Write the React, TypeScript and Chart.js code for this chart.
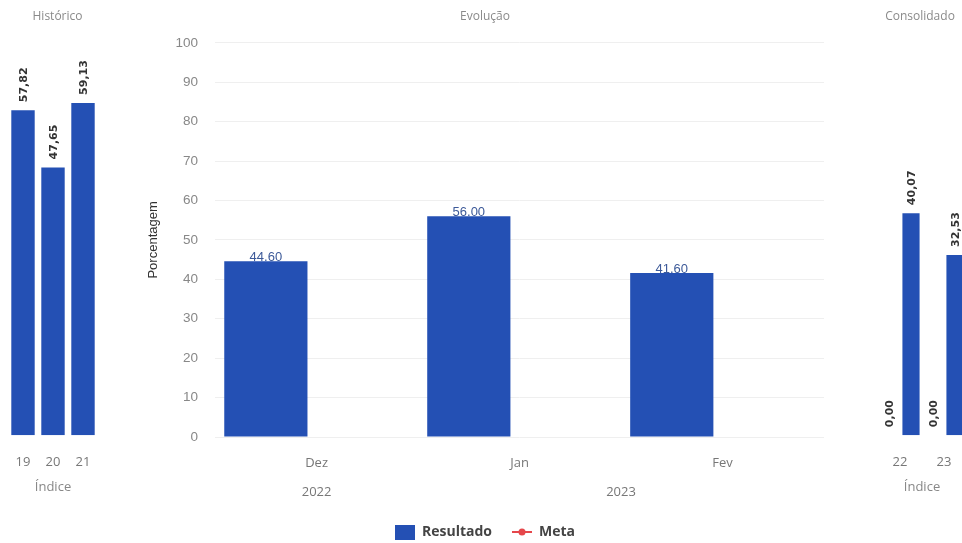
import React, { useEffect, useRef } from "react";
import { Chart, registerables } from "chart.js";

Chart.register(...registerables);
Chart.defaults.font.family = "'Liberation Sans', Arial, sans-serif";

// ---------- Data ----------
// Histórico
const historicoCategorias = ["19", "20", "21"];
const historicoResultado = [57.82, 47.65, 59.13];
const historicoMaxY = 70;

// Evolução
const evolucaoMeses = ["Dez", "Jan", "Fev"];
const evolucaoAnos = ["2022", "2023", "2023"];
const evolucaoResultado = [44.6, 56.0, 41.6];
const evolucaoMeta: (number | null)[] = [null, null, null];
const evolucaoTicksY = [0, 10, 20, 30, 40, 50, 60, 70, 80, 90, 100];

// Consolidado
const consolidadoCategorias = ["22", "23"];
const consolidadoMeta = [0, 0];
const consolidadoResultado = [40.07, 32.53];
const consolidadoMaxY = 71;

// ---------- Styles ----------
const AZUL = "#2450b4";
const VERMELHO = "#e5474b";
const TICK_COLOR = "#777";
const OPEN = "'Open Sans', 'Liberation Sans', sans-serif";

// value labels plugin
const valueLabels = {
  id: "valueLabels",
  afterDatasetsDraw(chart: any, _args: any, opts: any) {
    if (!opts || !opts.show) return;
    const ctx = chart.ctx;
    chart.data.datasets.forEach((ds: any, di: number) => {
      const meta = chart.getDatasetMeta(di);
      if (meta.hidden) return;
      meta.data.forEach((el: any, i: number) => {
        const v = ds.data[i];
        if (v === null || v === undefined) return;
        const text = Number(v).toFixed(2).replace(".", opts.decimal);
        ctx.save();
        ctx.font = opts.font;
        ctx.fillStyle = opts.color;
        if (opts.rotate) {
          ctx.translate(el.x + 1, el.y - opts.offset);
          ctx.rotate(-Math.PI / 2);
          ctx.textAlign = "left";
          ctx.textBaseline = "middle";
          ctx.fillText(text, 0, 0);
        } else {
          ctx.textAlign = "center";
          ctx.textBaseline = "alphabetic";
          ctx.fillText(text, el.x, el.y - opts.offset);
        }
        ctx.restore();
      });
    });
  },
};

// Year row: a half-step category axis (2n+1 positions, no offset),
// each year placed at the middle of the months it covers.
const rotulosAnos = (() => {
  const n = evolucaoMeses.length;
  const out: string[] = new Array(2 * n + 1).fill("");
  const groups: { label: string; idx: number[] }[] = [];
  evolucaoAnos.forEach((a, i) => {
    const g = groups.find((x) => x.label === a);
    if (g) g.idx.push(i);
    else groups.push({ label: a, idx: [i] });
  });
  groups.forEach((g) => {
    const mean = g.idx.reduce((s, v) => s + v, 0) / g.idx.length;
    out[Math.round(2 * mean + 1)] = g.label;
  });
  return out;
})();

function makeIcons() {
  const box = document.createElement("canvas");
  box.width = 20;
  box.height = 15;
  const bctx = box.getContext("2d")!;
  bctx.fillStyle = AZUL;
  bctx.fillRect(0, 0, 20, 15);

  const line = document.createElement("canvas");
  line.width = 20;
  line.height = 10;
  const lctx = line.getContext("2d")!;
  lctx.strokeStyle = VERMELHO;
  lctx.lineWidth = 2;
  lctx.beginPath();
  lctx.moveTo(0, 5);
  lctx.lineTo(20, 5);
  lctx.stroke();
  lctx.fillStyle = VERMELHO;
  lctx.beginPath();
  lctx.arc(10, 5, 3.5, 0, Math.PI * 2);
  lctx.fill();
  return [box, line];
}

const smallTitle = (text: string, bottom: number) => ({
  display: true,
  text,
  font: { size: 12, weight: "normal", family: OPEN },
  color: "#8a8a8a",
  padding: { top: 9.8, bottom },
});

const indiceAxis = () => ({
  grid: { display: false, drawTicks: true, tickLength: 17 },
  border: { display: false },
  ticks: { font: { size: 13, family: OPEN }, color: TICK_COLOR, padding: 2 },
  title: {
    display: true,
    text: "Índice",
    font: { size: 13, family: OPEN },
    color: "#888",
    padding: { top: 7.6, bottom: 4 },
  },
});

function historicoConfig(): any {
  return {
    type: "bar",
    data: {
      labels: historicoCategorias,
      datasets: [
        {
          label: "Resultado",
          data: historicoResultado,
          backgroundColor: AZUL,
          barPercentage: 0.78,
          categoryPercentage: 1,
        },
      ],
    },
    plugins: [valueLabels],
    options: {
      responsive: true,
      maintainAspectRatio: false,
      animation: false,
      layout: { padding: { left: 8, right: 0, top: 0, bottom: 0 } },
      plugins: {
        legend: { display: false },
        tooltip: { enabled: false },
        title: smallTitle("Histórico", 17.6),
        valueLabels: {
          show: true,
          rotate: true,
          decimal: ",",
          font: "bold 11px 'DejaVu Sans'",
          color: "#333",
          offset: 8,
        },
      },
      scales: {
        x: indiceAxis(),
        y: {
          position: "right",
          min: 0,
          max: historicoMaxY,
          ticks: { display: false },
          grid: { display: false, drawTicks: false },
          border: { display: false },
          afterFit: (s: any) => {
            s.width = 9;
          },
        },
      },
    },
  };
}

function evolucaoConfig(): any {
  const icons = makeIcons();
  return {
    type: "bar",
    data: {
      labels: evolucaoMeses,
      datasets: [
        {
          label: "Resultado",
          data: evolucaoResultado,
          backgroundColor: AZUL,
          barPercentage: 0.82,
          categoryPercentage: 1,
          xAxisID: "x",
          yAxisID: "y",
        },
        {
          label: "Meta",
          data: evolucaoMeta,
          backgroundColor: VERMELHO,
          barPercentage: 0.82,
          categoryPercentage: 1,
          xAxisID: "x",
          yAxisID: "y",
        },
      ],
    },
    plugins: [valueLabels],
    options: {
      responsive: true,
      maintainAspectRatio: false,
      animation: false,
      layout: { padding: 0 },
      plugins: {
        tooltip: { enabled: false },
        title: smallTitle("Evolução", 18.6),
        legend: {
          display: true,
          position: "bottom",
          labels: {
            usePointStyle: true,
            pointStyleWidth: 20,
            boxHeight: 14,
            padding: 20,
            font: { size: 14, weight: "bold", family: OPEN },
            color: "#444",
            generateLabels: (chart: any) =>
              chart.data.datasets.map((ds: any, i: number) => ({
                text: ds.label,
                pointStyle: icons[i],
                fillStyle: "transparent",
                strokeStyle: "transparent",
                lineWidth: 0,
                hidden: false,
                datasetIndex: i,
                fontColor: "#444",
              })),
          },
        },
        valueLabels: {
          show: true,
          rotate: false,
          decimal: ".",
          font: "13px 'Liberation Sans'",
          color: "#3d5a99",
          offset: 0,
        },
      },
      scales: {
        x: {
          weight: 0,
          grid: { display: false, drawTicks: true, tickLength: 16 },
          border: { display: false },
          ticks: { font: { size: 13, family: OPEN }, color: TICK_COLOR, padding: 2 },
        },
        x2: {
          type: "category",
          labels: rotulosAnos,
          position: "bottom",
          weight: 1,
          offset: false,
          grid: { display: false, offset: false, drawTicks: true, tickLength: 10 },
          border: { display: false },
          ticks: {
            autoSkip: false,
            maxRotation: 0,
            font: { size: 13, family: OPEN },
            color: TICK_COLOR,
            padding: 2,
          },
          afterFit: (s: any) => {
            s.height += 2.8;
          },
        },
        y: {
          position: "left",
          min: evolucaoTicksY[0],
          max: evolucaoTicksY[evolucaoTicksY.length - 1],
          afterBuildTicks: (s: any) => {
            s.ticks = evolucaoTicksY.map((v) => ({ value: v }));
          },
          grid: { color: "#efefef", drawTicks: true, tickLength: 15, tickColor: "rgba(0,0,0,0)" },
          border: { display: false },
          ticks: { font: { size: 13.5 }, color: "#888", padding: 2 },
          title: {
            display: true,
            text: "Porcentagem",
            font: { size: 13 },
            color: "#333",
            padding: { top: 4, bottom: 12 },
          },
        },
        yDir: {
          position: "right",
          display: true,
          ticks: { display: false },
          grid: { display: false, drawTicks: false },
          border: { display: false },
          afterFit: (s: any) => {
            s.width = 4;
          },
        },
      },
    },
  };
}

function consolidadoConfig(): any {
  return {
    type: "bar",
    data: {
      labels: consolidadoCategorias,
      datasets: [
        {
          label: "Meta",
          data: consolidadoMeta,
          backgroundColor: AZUL,
          barPercentage: 0.78,
          categoryPercentage: 1,
        },
        {
          label: "Resultado",
          data: consolidadoResultado,
          backgroundColor: AZUL,
          barPercentage: 0.78,
          categoryPercentage: 1,
        },
      ],
    },
    plugins: [valueLabels],
    options: {
      responsive: true,
      maintainAspectRatio: false,
      animation: false,
      layout: { padding: 0 },
      plugins: {
        legend: { display: false },
        tooltip: { enabled: false },
        title: smallTitle("Consolidado", 17.6),
        valueLabels: {
          show: true,
          rotate: true,
          decimal: ",",
          font: "bold 11px 'DejaVu Sans'",
          color: "#333",
          offset: 8,
        },
      },
      scales: {
        x: indiceAxis(),
        y: {
          position: "left",
          min: 0,
          max: consolidadoMaxY,
          ticks: { display: false },
          grid: { display: false, drawTicks: false },
          border: { display: false },
          afterFit: (s: any) => {
            s.width = 4;
          },
        },
      },
    },
  };
}

function ChartBox({ box, make }: { box: React.CSSProperties; make: () => any }) {
  const ref = useRef<HTMLCanvasElement>(null);
  useEffect(() => {
    const chart = new Chart(ref.current as HTMLCanvasElement, make());
    return () => chart.destroy();
  }, []);
  return (
    <div style={{ position: "absolute", ...box }}>
      <canvas ref={ref} />
    </div>
  );
}

export default function App() {
  return (
    <div
      style={{
        position: "fixed",
        left: 0,
        top: 0,
        width: 962,
        height: 543,
        overflow: "hidden",
        background: "#fff",
      }}
    >
      <ChartBox box={{ left: 0, top: 0, width: 107, height: 499 }} make={historicoConfig} />
      <ChartBox box={{ left: 142, top: 0, width: 686, height: 549 }} make={evolucaoConfig} />
      <ChartBox box={{ left: 874, top: 0, width: 92, height: 499 }} make={consolidadoConfig} />
    </div>
  );
}
